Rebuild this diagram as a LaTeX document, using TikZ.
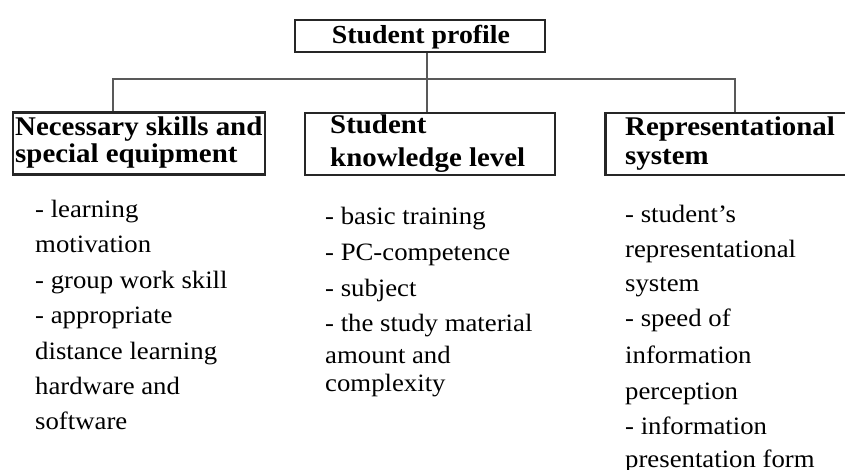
\documentclass[tikz,border=0pt]{standalone}
\usepackage{fontspec}
\setmainfont[FakeStretch=1.07]{Liberation Serif}
\begin{document}
\begin{tikzpicture}[x=1pt,y=-1pt,
  boxst/.style={draw=black!85,line width=2.6pt,rectangle,inner sep=0pt},
  conn/.style={draw=black!65,line width=1.6pt},
  head/.style={font=\fontsize{27}{30}\selectfont\bfseries,anchor=north west,align=left,inner sep=0pt},
  body/.style={font=\fontsize{25}{35.4}\selectfont,anchor=north west,align=left,inner sep=0pt}]
\useasboundingbox (0,0) rectangle (845,470);
\clip (0,0) rectangle (845,470);
\fill[white] (0,0) rectangle (845,470);
% boxes
\node[boxst,minimum width=250pt,minimum height=32pt] (top) at (420,36) {};
\node[boxst,minimum width=252pt,minimum height=62pt] (left) at (139,143.5) {};
\node[boxst,minimum width=250pt,minimum height=62pt] (mid) at (430,144) {};
\node[boxst,minimum width=245pt,minimum height=62pt] (right) at (728,144) {};
% connectors
\coordinate (j) at (427,79);
\coordinate (hl) at (113,79);
\coordinate (hr) at (735,79);
\draw[conn] (left.north -| hl) -- (hl) -- (hr) -- (right.north -| hr);
\draw[conn] (top.south -| j) -- (mid.north -| j);
% headings
\node[head,font=\fontsize{26}{30}\selectfont\bfseries,anchor=base] (toptext) at (421,44) {Student profile};
\node[head] (lefttext) at (15,116.6) {Necessary skills and\\[-3pt] special equipment};
\node[head] (midtext) at (330,114.6) {Student\\[3pt] knowledge level};
\node[head] (righttext) at (625,116.6) {Representational\\[-1pt] system};
% bodies
\node[body] (leftbody) at (35,199.9) {- learning\\ motivation\\ - group work skill\\ - appropriate\\ distance learning\\ hardware and\\ software};
\node[body] (midbody) at (325,206.9) {- basic training\\[1pt] - PC-competence\\ - subject\\ - the study material\\[-4pt] amount and\\[-7pt] complexity};
\node[body] (rightbody) at (625,204.9) {- student’s\\ representational\\[-2pt] system\\ - speed of\\[1pt] information\\[1pt] perception\\ - information\\[-3pt] presentation form};
\end{tikzpicture}
\end{document}
